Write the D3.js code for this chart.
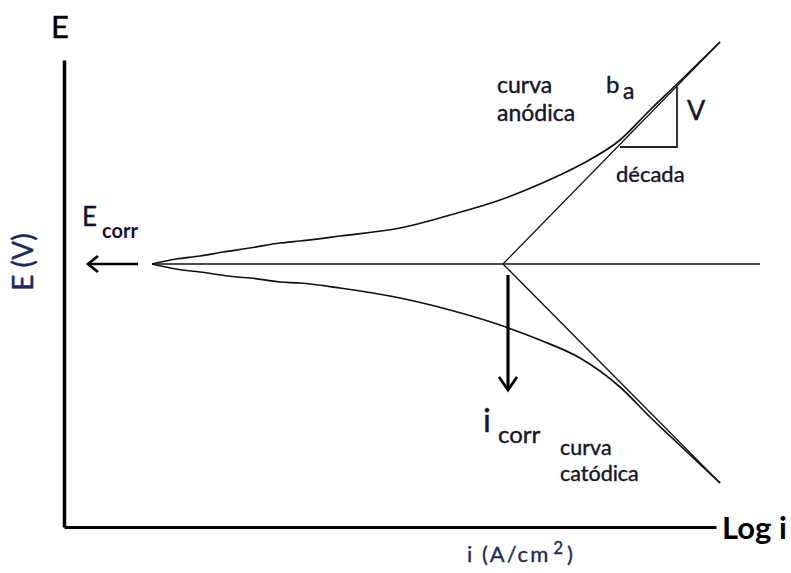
<!DOCTYPE html>
<html>
<head>
<meta charset="utf-8">
<script src="https://cdn.jsdelivr.net/npm/d3@7"></script>
<style>
  html, body { margin: 0; padding: 0; background: #fff; }
  svg { display: block; }
  text { font-family: Lato, "Open Sans", sans-serif; }
</style>
</head>
<body>
<svg id="chart" width="791" height="573"></svg>
<script>
// Polarization curve (Tafel plot): potential E versus log of current density.
// Units: log i on the horizontal axis, E relative to Ecorr on the vertical axis.

const anodicLogI = [0.86, 1.10, 1.34, 1.57, 1.84, 2.14, 2.34, 2.74, 3.34, 3.84, 4.34, 4.74, 5.14, 5.54, 5.84, 6.11, 6.54];
const anodicE    = [0.00, 0.05, 0.08, 0.12, 0.16, 0.21, 0.23, 0.28, 0.36, 0.49, 0.64, 0.80, 0.99, 1.24, 1.54, 1.80, 2.22];

const cathodicLogI = [0.86, 1.10, 1.34, 1.71, 1.84, 2.14, 2.34, 2.74, 3.34, 3.84, 4.34, 4.74, 5.14, 5.54, 5.84, 6.04, 6.54];
const cathodicE    = [0.00, -0.05, -0.08, -0.13, -0.14, -0.18, -0.19, -0.24, -0.34, -0.46, -0.61, -0.76, -0.94, -1.23, -1.53, -1.72, -2.19];

// Tafel extrapolations meeting at (log icorr, Ecorr)
const logIcorr = 4.37;
const Ecorr = 0;
const tafelEnd = { logI: 6.54, anodicE: 2.22, cathodicE: -2.19 };

// Horizontal Ecorr line extent
const ecorrLineLogI = [0.86, 6.94];

// Slope triangle (one decade of current, V of potential)
const decadeLogI = [5.54, 6.11];
const decadeE = [1.17, 1.77];

// Arrow extents
const ecorrArrowLogI = [0.72, 0.22];
const icorrArrowE = [-0.11, -1.26];
const icorrArrowLogI = 4.42;

const svg = d3.select("#chart");

const x = d3.scaleLinear().domain([-0.02, 6.5]).range([64, 716]);
const y = d3.scaleLinear().domain([-2.63, 2.04]).range([527, 60]);

const line = d3.line().x(d => x(d[0])).y(d => y(d[1]));

// Axes without ticks
const yAxis = svg.append("g")
  .attr("transform", `translate(${x(-0.02)},0)`)
  .call(d3.axisLeft(y).tickValues([]).tickSizeOuter(0));
yAxis.select(".domain").attr("stroke", "#000").attr("stroke-width", 3.5);

const xAxis = svg.append("g")
  .attr("transform", `translate(0,${y(-2.63)})`)
  .call(d3.axisBottom(x).tickValues([]).tickSizeOuter(0));
xAxis.select(".domain").attr("stroke", "#000").attr("stroke-width", 3);

// Ecorr horizontal line
svg.append("path")
  .attr("d", line([[ecorrLineLogI[0], Ecorr], [ecorrLineLogI[1], Ecorr]]))
  .attr("fill", "none").attr("stroke", "#111").attr("stroke-width", 1.6);

// Tafel lines
svg.append("path")
  .attr("d", line([[logIcorr, Ecorr], [tafelEnd.logI, tafelEnd.anodicE]]))
  .attr("fill", "none").attr("stroke", "#111").attr("stroke-width", 1.3);
svg.append("path")
  .attr("d", line([[logIcorr, Ecorr], [tafelEnd.logI, tafelEnd.cathodicE]]))
  .attr("fill", "none").attr("stroke", "#111").attr("stroke-width", 1.3);

// Polarization curves
const smooth = d3.line().x(d => x(d[0])).y(d => y(d[1])).curve(d3.curveMonotoneX);
svg.append("path")
  .attr("d", smooth(anodicLogI.map((v, i) => [v, anodicE[i]])))
  .attr("fill", "none").attr("stroke", "#111").attr("stroke-width", 1.7);
svg.append("path")
  .attr("d", smooth(cathodicLogI.map((v, i) => [v, cathodicE[i]])))
  .attr("fill", "none").attr("stroke", "#111").attr("stroke-width", 1.7);

// Slope triangle
svg.append("path")
  .attr("d", line([[decadeLogI[0], decadeE[0]], [decadeLogI[1], decadeE[0]], [decadeLogI[1], decadeE[1]]]))
  .attr("fill", "none").attr("stroke", "#222").attr("stroke-width", 1.8);

// Ecorr arrow pointing left
svg.append("path")
  .attr("d", line([[ecorrArrowLogI[0], Ecorr], [ecorrArrowLogI[1], Ecorr]]))
  .attr("fill", "none").attr("stroke", "#000").attr("stroke-width", 2.6);
svg.append("path")
  .attr("d", line([[ecorrArrowLogI[1] + 0.10, Ecorr + 0.08], [ecorrArrowLogI[1], Ecorr], [ecorrArrowLogI[1] + 0.10, Ecorr - 0.08]]))
  .attr("fill", "none").attr("stroke", "#000").attr("stroke-width", 2.6);

// icorr arrow pointing down
svg.append("path")
  .attr("d", line([[icorrArrowLogI, icorrArrowE[0]], [icorrArrowLogI, icorrArrowE[1]]]))
  .attr("fill", "none").attr("stroke", "#000").attr("stroke-width", 3.2);
svg.append("path")
  .attr("d", line([[icorrArrowLogI - 0.09, icorrArrowE[1] + 0.13], [icorrArrowLogI, icorrArrowE[1]], [icorrArrowLogI + 0.09, icorrArrowE[1] + 0.13]]))
  .attr("fill", "none").attr("stroke", "#000").attr("stroke-width", 2.8)
  .attr("stroke-linejoin", "miter");

// Text labels
const ink = "#15152a";
const navy = "#1a2c58";

function label(px, py, txt, size, opts = {}) {
  const fill = opts.fill || ink;
  return svg.append("text")
    .attr("x", px).attr("y", py)
    .attr("font-size", size)
    .attr("font-weight", opts.bold ? "bold" : "normal")
    .attr("fill", fill)
    .attr("stroke", fill).attr("stroke-width", opts.bold ? 0 : 0.4)
    .attr("text-anchor", opts.anchor || "start")
    .text(txt);
}

// Axis names
label(x(-0.15), y(2.26), "E", 31, { fill: "#000" });
label(x(6.56), y(-2.75), "Log i", 31, { bold: true, fill: "#000" });

const xTitle = svg.append("text")
  .attr("x", x(4.01)).attr("y", y(-2.98))
  .attr("font-size", 22).attr("fill", navy)
  .attr("stroke", navy).attr("stroke-width", 0.35)
  .attr("letter-spacing", 2);
xTitle.append("tspan").text("i (A/cm");
xTitle.append("tspan").attr("dy", -8).attr("dx", 3).attr("font-size", 17).text("2");
xTitle.append("tspan").attr("dy", 8).attr("dx", 2).text(")");

svg.append("text")
  .attr("transform", `translate(${x(-0.33)},${y(0.02)}) rotate(-90)`)
  .attr("text-anchor", "middle")
  .attr("font-size", 28).attr("fill", navy)
  .attr("stroke", navy).attr("stroke-width", 0.4)
  .text("E (V)");

// Ecorr
label(x(0.16), y(0.38), "E", 26);
label(x(0.36), y(0.26), "corr", 20, { bold: true });

// Anodic branch labels
label(x(4.31), y(1.71), "curva", 23);
label(x(4.31), y(1.43), "anódica", 23);
label(x(5.40), y(1.71), "b", 24);
label(x(5.57), y(1.65), "a", 23);
label(x(6.21), y(1.44), "V", 27);
label(x(5.50), y(0.82), "década", 22);

// icorr
label(x(4.17), y(-1.68), "i", 33);
label(x(4.32), y(-1.79), "corr", 24);

// Cathodic branch labels
label(x(4.94), y(-1.91), "curva", 21.5);
label(x(4.94), y(-2.17), "catódica", 21.5);
</script>
</body>
</html>
